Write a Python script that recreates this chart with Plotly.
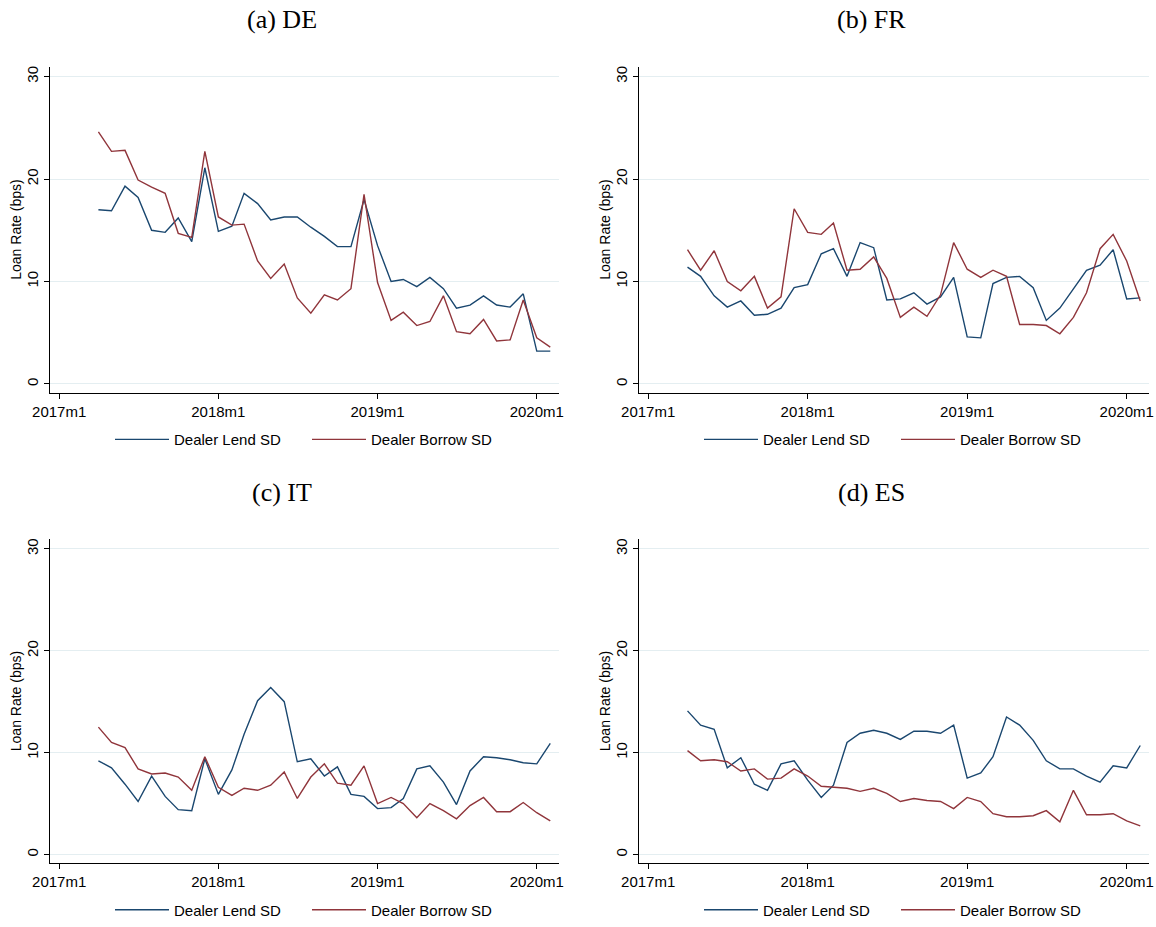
import plotly.graph_objects as go
import pandas as pd

# months 2017m4 .. 2020m2
months = pd.date_range("2017-04-01", "2020-02-01", freq="MS")

de_lend = [17.0, 16.9, 19.3, 18.2, 15.0, 14.8, 16.2, 13.9, 21.1, 14.9, 15.4, 18.6, 17.6, 16.0, 16.3, 16.3,
           15.3, 14.4, 13.4, 13.4, 18.0, 13.5, 10.0, 10.2, 9.5, 10.4, 9.3, 7.4, 7.7, 8.6, 7.7, 7.5, 8.8, 3.2, 3.2]
de_borrow = [24.6, 22.7, 22.8, 19.9, 19.2, 18.6, 14.7, 14.3, 22.7, 16.3, 15.5, 15.6, 12.0, 10.3, 11.7, 8.4,
             6.9, 8.7, 8.2, 9.3, 18.5, 9.9, 6.2, 7.0, 5.7, 6.1, 8.6, 5.1, 4.9, 6.3, 4.2, 4.3, 8.2, 4.5, 3.6]
fr_lend = [11.4, 10.5, 8.6, 7.5, 8.1, 6.7, 6.8, 7.4, 9.4, 9.7, 12.7, 13.2, 10.5, 13.8, 13.3, 8.2,
           8.3, 8.9, 7.8, 8.5, 10.4, 4.6, 4.5, 9.8, 10.4, 10.5, 9.4, 6.2, 7.4, 9.3, 11.1, 11.6, 13.1, 8.3, 8.4]
fr_borrow = [13.1, 11.1, 13.0, 10.0, 9.1, 10.5, 7.4, 8.5, 17.1, 14.8, 14.6, 15.7, 11.1, 11.2, 12.4, 10.3,
             6.5, 7.5, 6.6, 8.7, 13.8, 11.2, 10.4, 11.1, 10.5, 5.8, 5.8, 5.7, 4.9, 6.5, 8.9, 13.2, 14.6, 12.0, 8.1]
it_lend = [9.2, 8.5, 6.9, 5.2, 7.7, 5.7, 4.4, 4.3, 9.4, 5.9, 8.3, 11.8, 15.1, 16.4, 15.0, 9.1,
           9.4, 7.7, 8.6, 5.9, 5.7, 4.5, 4.6, 5.5, 8.4, 8.7, 7.1, 4.9, 8.2, 9.6, 9.5, 9.3, 9.0, 8.9, 10.9]
it_borrow = [12.5, 11.0, 10.5, 8.4, 7.9, 8.0, 7.6, 6.3, 9.6, 6.6, 5.8, 6.5, 6.3, 6.8, 8.1, 5.5,
             7.6, 8.9, 7.0, 6.8, 8.7, 5.0, 5.6, 5.0, 3.6, 5.0, 4.3, 3.5, 4.8, 5.6, 4.2, 4.2, 5.1, 4.1, 3.3]
es_lend = [14.1, 12.7, 12.3, 8.5, 9.5, 6.9, 6.3, 8.9, 9.2, 7.3, 5.6, 6.8, 11.0, 11.9, 12.2, 11.9,
           11.3, 12.1, 12.1, 11.9, 12.7, 7.5, 8.0, 9.6, 13.5, 12.7, 11.2, 9.2, 8.4, 8.4, 7.7, 7.1, 8.7, 8.5, 10.7]
es_borrow = [10.2, 9.2, 9.3, 9.1, 8.2, 8.4, 7.4, 7.5, 8.4, 7.7, 6.7, 6.6, 6.5, 6.2, 6.5, 6.0,
             5.2, 5.5, 5.3, 5.2, 4.5, 5.6, 5.2, 4.0, 3.7, 3.7, 3.8, 4.3, 3.2, 6.3, 3.9, 3.9, 4.0, 3.3, 2.8]

panels = [("(a) DE", de_lend, de_borrow),
          ("(b) FR", fr_lend, fr_borrow),
          ("(c) IT", it_lend, it_borrow),
          ("(d) ES", es_lend, es_borrow)]

tick_dates = ["2017-01-01", "2018-01-01", "2019-01-01", "2020-01-01"]
tick_text = ["2017m1", "2018m1", "2019m1", "2020m1"]
ytitle = "Loan Rate (bps)"

NAVY = "#1a476f"
MAROON = "#90353b"
W, H = 1156, 927

# pixel boxes of the plot areas: (left, right, top, bottom)
boxes = [(50, 559, 67, 395), (639, 1149, 67, 395),
         (50, 559, 542, 868), (639, 1149, 542, 868)]

fig = go.Figure()
sans = "Liberation Sans, Arial, sans-serif"

for i, (title, lend, borrow) in enumerate(panels):
    n = "" if i == 0 else str(i + 1)
    leg = "legend" + n
    fig.add_trace(go.Scatter(x=months, y=lend, mode="lines", name="Dealer Lend SD",
                             line=dict(color=NAVY, width=1.4), xaxis="x" + n, yaxis="y" + n,
                             legend=leg))
    fig.add_trace(go.Scatter(x=months, y=borrow, mode="lines", name="Dealer Borrow SD",
                             line=dict(color=MAROON, width=1.4), xaxis="x" + n, yaxis="y" + n,
                             legend=leg))
    l, r, t, b = boxes[i]
    xd = [l / W, r / W]
    yd = [1 - b / H, 1 - t / H]
    fig.layout["xaxis" + n] = dict(
        domain=xd, anchor="y" + n, range=["2016-12-11", "2020-02-21"], automargin=False,
        tickvals=tick_dates, ticktext=tick_text, showline=True, linecolor="black",
        linewidth=1.3, ticks="outside", ticklen=5, tickcolor="black", showgrid=False,
        zeroline=False, tickfont=dict(family=sans, size=15, color="black"))
    fig.layout["yaxis" + n] = dict(
        domain=yd, anchor="x" + n, range=[-0.87, 30.97], tickvals=[0, 10, 20, 30],
        automargin=False, tickangle=-90, showline=True, linecolor="black", linewidth=1.3,
        ticks="outside", ticklen=5, tickcolor="black", showgrid=True, gridcolor="#e4eef1",
        gridwidth=1, zeroline=False, tickfont=dict(family=sans, size=15, color="black"))
    fig.layout[leg] = dict(orientation="h", x=(l + 60) / W, xanchor="left",
                           y=1 - (b + 47) / H, yanchor="middle",
                           font=dict(family=sans, size=15, color="black"),
                           bgcolor="rgba(0,0,0,0)", itemwidth=54, entrywidth=128)
    # panel title
    fig.add_annotation(text=title, x=(l + 232) / W, y=1 - (t - 47) / H, xref="paper",
                       yref="paper", showarrow=False, xanchor="center", yanchor="middle",
                       font=dict(family="Liberation Serif, DejaVu Serif, serif", size=26,
                                 color="black"))
    # y-axis title
    fig.add_annotation(text=ytitle, x=(l - 34) / W, y=sum(yd) / 2, xref="paper",
                       yref="paper", showarrow=False, textangle=-90, xanchor="center",
                       yanchor="middle", font=dict(family=sans, size=14, color="black"))

fig.update_layout(width=W, height=H, margin=dict(l=0, r=0, t=0, b=0),
                  plot_bgcolor="white", paper_bgcolor="white", showlegend=True)

# page body has an 8px default margin; drop it so the figure fills the window
fig.write_html("out.html", config={"displayModeBar": False},
               post_script="document.body.style.margin='0';document.body.style.overflow='hidden';")
